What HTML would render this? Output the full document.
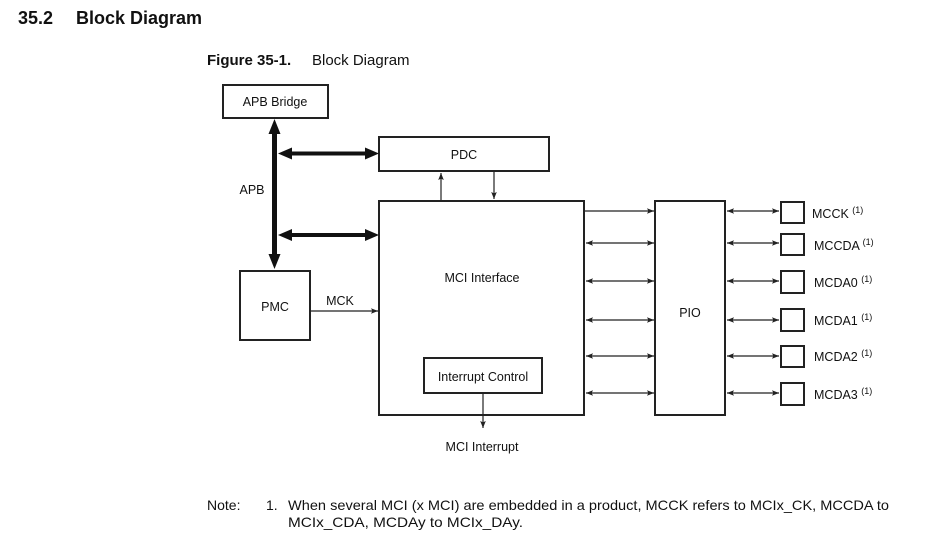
<!DOCTYPE html>
<html><head><meta charset="utf-8"><style>
html,body{margin:0;padding:0;background:#fff;}
svg{display:block;font-family:"Liberation Sans",Arial,sans-serif;}
</style></head><body>
<svg width="934" height="540" viewBox="0 0 934 540" xmlns="http://www.w3.org/2000/svg">
<defs>
<marker id="a" viewBox="0 0 10 10" refX="10" refY="5" markerWidth="8" markerHeight="7" orient="auto-start-reverse" markerUnits="userSpaceOnUse"><path d="M0,1 L10,5 L0,9 L2,5 z" fill="#222"/></marker>
</defs>
<text x="18" y="24" font-size="18" font-weight="bold" fill="#111">35.2</text>
<text x="76" y="24" font-size="18" font-weight="bold" fill="#111">Block Diagram</text>
<text x="207" y="65" font-size="15" font-weight="bold" fill="#111">Figure 35-1.</text>
<text x="312" y="65" font-size="15" fill="#111">Block Diagram</text>

<g fill="none" stroke="#222" stroke-width="2">
<rect x="223" y="85" width="105" height="33"/>
<rect x="379" y="137" width="170" height="34"/>
<rect x="379" y="201" width="205" height="214"/>
<rect x="240" y="271" width="70" height="69"/>
<rect x="424" y="358" width="118" height="35"/>
<rect x="655" y="201" width="70" height="214"/>
</g>
<g font-size="12.5" fill="#111" text-anchor="middle">
<text x="275" y="106">APB Bridge</text>
<text x="464" y="159">PDC</text>
<text x="482" y="282">MCI Interface</text>
<text x="275" y="311">PMC</text>
<text x="483" y="381">Interrupt Control</text>
<text x="690" y="317">PIO</text>
<text x="482" y="451">MCI Interrupt</text>
<text x="252" y="194">APB</text>
<text x="340" y="305">MCK</text>
</g>

<!-- bus -->
<g fill="#111">
<rect x="272" y="131" width="5" height="126"/>
<polygon points="274.5,119 268.5,134 280.5,134"/>
<polygon points="274.5,269 268.5,254 280.5,254"/>
<rect x="290" y="151.5" width="76" height="4"/>
<polygon points="278,153.5 292,147.5 292,159.5"/>
<polygon points="379,153.5 365,147.5 365,159.5"/>
<rect x="290" y="233" width="76" height="4"/>
<polygon points="278,235 292,229 292,241"/>
<polygon points="379,235 365,229 365,241"/>
</g>

<g stroke="#222" stroke-width="1.2" fill="none">
<line x1="441" y1="200" x2="441" y2="173" marker-end="url(#a)"/>
<line x1="494" y1="172" x2="494" y2="199" marker-end="url(#a)"/>
<line x1="310" y1="311" x2="378" y2="311" marker-end="url(#a)"/>
<line x1="483" y1="393" x2="483" y2="428" marker-end="url(#a)"/>
<line x1="585" y1="211" x2="654" y2="211" marker-end="url(#a)"/>
<line x1="586" y1="243" x2="654" y2="243" marker-start="url(#a)" marker-end="url(#a)"/>
<line x1="586" y1="281" x2="654" y2="281" marker-start="url(#a)" marker-end="url(#a)"/>
<line x1="586" y1="320" x2="654" y2="320" marker-start="url(#a)" marker-end="url(#a)"/>
<line x1="586" y1="356" x2="654" y2="356" marker-start="url(#a)" marker-end="url(#a)"/>
<line x1="586" y1="393" x2="654" y2="393" marker-start="url(#a)" marker-end="url(#a)"/>
<line x1="727" y1="211" x2="779" y2="211" marker-start="url(#a)" marker-end="url(#a)"/>
<line x1="727" y1="243" x2="779" y2="243" marker-start="url(#a)" marker-end="url(#a)"/>
<line x1="727" y1="281" x2="779" y2="281" marker-start="url(#a)" marker-end="url(#a)"/>
<line x1="727" y1="320" x2="779" y2="320" marker-start="url(#a)" marker-end="url(#a)"/>
<line x1="727" y1="356" x2="779" y2="356" marker-start="url(#a)" marker-end="url(#a)"/>
<line x1="727" y1="393" x2="779" y2="393" marker-start="url(#a)" marker-end="url(#a)"/>
</g>
<g fill="none" stroke="#222" stroke-width="2">
<rect x="781" y="202" width="23" height="21"/>
<rect x="781" y="234" width="23" height="21"/>
<rect x="781" y="271" width="23" height="22"/>
<rect x="781" y="309" width="23" height="22"/>
<rect x="781" y="346" width="23" height="21"/>
<rect x="781" y="383" width="23" height="22"/>
</g>
<g font-size="12.5" fill="#111">
<text x="812" y="218">MCCK <tspan font-size="9" dy="-5">(1)</tspan></text>
<text x="814" y="250">MCCDA <tspan font-size="9" dy="-5">(1)</tspan></text>
<text x="814" y="287">MCDA0 <tspan font-size="9" dy="-5">(1)</tspan></text>
<text x="814" y="325">MCDA1 <tspan font-size="9" dy="-5">(1)</tspan></text>
<text x="814" y="361">MCDA2 <tspan font-size="9" dy="-5">(1)</tspan></text>
<text x="814" y="399">MCDA3 <tspan font-size="9" dy="-5">(1)</tspan></text>
</g>
<g font-size="14" fill="#111">
<text x="207" y="510">Note:</text>
<text x="266" y="510">1.</text>
<text x="288" y="510" textLength="601" lengthAdjust="spacingAndGlyphs">When several MCI (x MCI) are embedded in a product, MCCK refers to MCIx_CK, MCCDA to</text>
<text x="288" y="527" textLength="235" lengthAdjust="spacingAndGlyphs">MCIx_CDA, MCDAy to MCIx_DAy.</text>
</g>
</svg>
</body></html>
